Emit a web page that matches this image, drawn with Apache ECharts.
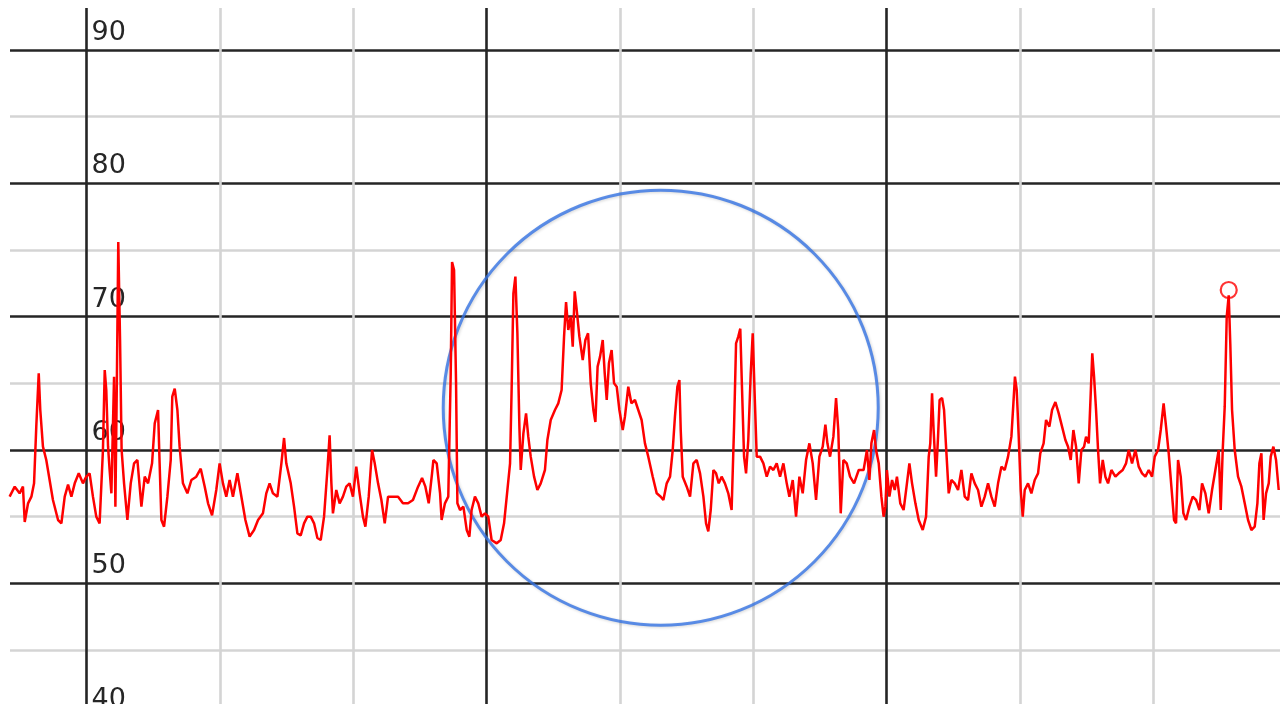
<!DOCTYPE html>
<html>
<head>
<meta charset="utf-8">
<script src="https://cdn.jsdelivr.net/npm/echarts@6.0.0/dist/echarts.min.js"></script>
<style>
  html, body { margin: 0; padding: 0; background: #ffffff; }
  #chart { width: 1280px; height: 704px; }
</style>
</head>
<body>
<div id="chart"></div>
<script>
// time (seconds into the 10-minute window) and heart-rate-like values
const seconds = [
  25.4,27.7,29.9,31.4,32.2,33.7,35.2,36.4,37.4,38.5,39.2,40.4,41.9,43.4,44.9,47.2,48.7,50.2,51.7,53.2,
  54.7,56.5,58.4,59.9,61.4,62.9,64.4,65.9,67.4,68.2,68.9,69.7,70.4,71.2,72.4,73.0,73.7,74.3,75.1,75.8,
  76.9,78.4,79.9,81.4,82.9,84.7,86.2,87.7,89.5,90.7,92.2,92.9,93.7,94.9,96.4,97.9,98.6,99.7,100.9,101.9,
  103.4,105.4,107.2,109.4,111.4,113.2,114.7,116.5,118.4,119.9,121.4,122.9,124.4,125.9,127.9,129.7,131.5,133.4,135.4,137.2,
  139.4,140.9,142.4,143.9,145.9,147.7,148.9,149.9,151.9,153.4,154.9,156.4,157.9,159.4,160.9,162.4,163.9,165.4,166.9,168.4,
  169.4,170.2,170.9,172.4,173.9,175.4,176.9,178.4,179.9,181.4,182.9,184.4,185.5,187.0,188.5,189.7,191.2,192.7,194.2,195.7,
  197.9,200.2,202.4,204.7,206.9,209.2,211.0,212.5,214.0,215.5,
  216.1,217.6,219.1,219.8,221.3,222.8,223.9,224.5,225.4,226.3,226.9,228.1,229.6,231.1,232.3,233.3,234.8,236.3,237.8,239.3,
  240.8,242.3,244.6,246.4,247.9,249.4,250.6,251.3,252.1,253.0,253.9,254.8,255.4,256.6,257.8,258.8,259.9,261.4,262.9,264.4,
  266.3,267.4,268.9,270.8,272.3,273.8,274.9,275.8,276.8,277.9,278.8,279.7,280.6,281.8,283.3,284.5,285.7,286.9,288.1,289.0,
  290.0,291.1,292.3,293.2,294.1,295.1,296.3,297.4,298.6,299.8,301.3,302.3,303.8,305.2,306.8,308.3,309.8,311.3,312.8,314.8,
  316.6,318.4,319.6,321.1,322.6,323.8,324.8,325.9,326.8,327.4,328.3,330.1,331.6,333.1,334.6,336.1,337.6,338.8,339.8,340.9,
  342.1,343.3,344.5,345.8,347.3,348.8,350.3,351.4,352.3,353.3,354.2,355.0,355.9,356.8,357.8,358.9,359.8,360.7,361.6,363.1,
  364.6,366.1,367.6,369.1,370.6,372.1,373.6,375.1,376.3,377.8,379.3,380.8,382.3,383.8,385.3,386.8,388.3,389.8,391.3,392.5,
  393.4,394.6,396.1,397.3,398.3,399.4,400.6,402.1,403.6,405.4,
  406.0,407.5,409.7,411.2,412.3,413.2,414.4,415.3,416.5,417.7,418.7,419.5,420.2,421.3,422.5,423.7,424.7,426.2,427.7,429.2,
  430.3,431.5,433.0,434.5,436.3,437.8,439.0,439.7,440.5,441.2,442.3,443.2,443.9,445.0,445.9,446.8,448.0,449.2,450.7,452.2,
  453.7,455.2,456.7,458.2,459.7,461.2,462.7,464.2,465.7,467.2,468.7,470.2,471.7,473.2,474.7,476.2,477.1,477.8,478.6,479.5,
  480.4,481.3,482.2,483.7,485.2,486.7,488.2,489.2,490.7,491.8,493.3,494.5,496.0,497.5,499.0,500.5,501.7,502.9,504.1,505.3,
  506.5,507.7,508.9,509.8,511.0,511.9,512.6,513.4,514.3,515.2,516.1,517.3,518.5,519.7,521.2,523.0,524.5,526.3,527.8,529.0,
  530.5,532.0,533.5,535.0,536.5,538.0,539.5,540.7,542.2,543.4,544.7,545.8,547.0,548.2,549.4,550.3,551.2,552.4,553.6,554.8,
  556.3,557.8,559.3,560.8,562.0,563.5,565.0,566.5,568.0,569.5,570.4,571.3,572.2,573.1,574.0,574.7,575.5,576.7,578.2,579.7,
  581.2,582.7,584.2,585.7,586.9,587.8,588.7,589.7,590.8,592.0,592.9,594.1,595.3,596.5
];
const bpm = [
  56.5,57.25,56.75,57.25,54.6,56,56.5,57.5,61.75,65.75,63,60.25,59.25,57.75,56.25,54.75,54.5,56.5,57.4,56.5,
  57.5,58.25,57.5,58,58.25,56.5,55,54.5,60,66,64.5,60.25,58.5,56.75,65.5,55.75,65.75,75.6,68.25,60,
  57.5,54.75,57.5,59,59.25,55.75,58,57.5,59,62,63,59,54.75,54.25,56.5,59.25,64,64.6,63,60.25,
  57.5,56.75,57.75,58,58.6,57.25,56,55.1,57,59,57.5,56.5,57.75,56.5,58.25,56.5,54.75,53.5,54,54.75,
  55.25,56.75,57.5,56.75,56.5,59,60.9,59,57.5,55.75,53.75,53.6,54.5,55,55,54.5,53.4,53.25,55,58.5,
  61.1,57.5,55.25,57,56,56.5,57.25,57.5,56.5,58.75,56.75,55,54.25,56.5,60,59,57.5,56.25,54.5,56.5,
  56.5,56.5,56,56,56.25,57.25,57.9,57.25,56,58.25,
  59.25,59,56.75,54.75,56,56.5,65.75,74.1,73.5,65,56,55.5,55.75,54,53.5,55.5,56.5,56,55,55.25,
  55,53.25,53,53.25,54.5,57,59,64.5,71.75,73,68.75,61.75,58.5,61.25,62.75,61,59.5,58,57,57.5,
  58.5,60.75,62.25,63,63.5,64.5,68.5,71.1,69,70,67.75,71.9,70.5,68.5,66.75,68.25,68.75,65,63,62.1,
  66.25,67,68.25,65.75,63.75,66.5,67.5,65,64.75,63,61.5,62.5,64.75,63.5,63.75,63,62.25,60.5,59.5,58,
  56.75,56.5,56.25,57.5,58,60,62.5,64.75,65.25,61.5,58,57.25,56.5,59,59.25,58.25,56.5,54.5,53.9,55.5,
  58.5,58.25,57.5,58,57.5,56.75,55.5,61.75,68,68.5,69.1,64.5,59.5,58.25,60.75,65.75,68.75,64,59.5,59.5,
  59,58,58.75,58.5,59,58,59,57.5,56.5,57.75,55,58,56.75,59.25,60.5,59,56.25,59.5,60.25,61.9,
  60.5,59.5,61,63.9,61.5,55.25,59.25,59,58,57.5,
  57.5,58.5,58.5,60,57.75,60.5,61.5,60,59,56.5,55,55.75,58.5,56.5,57.75,57,58,56,55.5,57.5,
  59,57.5,56,54.75,54,55,59.5,60.5,64.25,61.5,58,61,63.75,63.9,63,60.25,56.75,57.75,57.5,57,
  58.5,56.5,56.25,58.25,57.5,57,55.75,56.5,57.5,56.5,55.75,57.5,58.75,58.5,59.5,61,63.5,65.5,64.5,61,
  57,55,57,57.5,56.75,57.75,58.25,59.75,60.5,62.25,61.75,63,63.6,62.75,61.75,60.75,60.25,59.25,61.5,60.25,
  57.5,60,60.25,61,60.5,64.25,67.25,65.5,63,60,57.5,59.25,58,57.5,58.5,58,58.25,58.5,59,60,
  59,60,58.75,58.25,58,58.5,58,59.5,60,61.5,63.5,61.75,59.75,57.25,54.75,54.5,59.25,58,55.25,54.75,
  55.75,56.5,56.25,55.5,57.5,56.75,55.25,57,58.5,60,55.5,60,63.25,70,71.6,68,63,60,58,57.25,
  56,54.75,54,54.25,56,59,59.75,54.75,56.75,57.5,59.5,60.25,59.25,57
];
// annotations
const markedPeak = [574.0, 72.0];          // small red ring over the last big spike
const circledRegion = [318.4, 63.17];      // centre of the blue highlight circle
const yTickLabels = [40, 50, 60, 70, 80, 90];

const trace = seconds.map((t, i) => [t, bpm[i]]);

const DARK = '#252525';
const LIGHT = '#d4d4d4';

const chart = echarts.init(document.getElementById('chart'), null, { renderer: 'canvas' });
chart.setOption({
  animation: false,
  backgroundColor: '#ffffff',
  grid: {
    left: -46.83, right: -6.5, top: -16.67, bottom: -12.67,
    containLabel: false, outerBoundsMode: 'none'
  },
  xAxis: {
    type: 'value',
    min: 0, max: 600, interval: 60,
    axisLine: { show: false },
    axisTick: { show: false },
    axisLabel: { show: false },
    splitLine: {
      show: true,
      lineStyle: { color: [LIGHT, DARK, LIGHT], width: 2.6 }
    }
  },
  yAxis: {
    type: 'value',
    min: 40, max: 95, interval: 5,
    offset: -133.33,
    axisLine: { show: false },
    axisTick: { show: false },
    axisLabel: {
      show: true,
      inside: true,
      margin: 5,
      verticalAlign: 'bottom',
      color: '#262626',
      fontFamily: 'DejaVu Sans',
      fontSize: 27,
      lineHeight: 30,
      padding: [0, 0, 2, 0],
      showMaxLabel: false,
      formatter: v => (yTickLabels.indexOf(v) >= 0 ? String(v) : '')
    },
    splitLine: {
      show: true,
      lineStyle: { color: [DARK, LIGHT], width: 2.6 }
    }
  },
  graphic: [
    { type: 'rect', z: 1, shape: { x: 0, y: 0, width: 10, height: 704 }, style: { fill: '#ffffff' } },
    { type: 'rect', z: 1, shape: { x: 0, y: 0, width: 1280, height: 8 }, style: { fill: '#ffffff' } }
  ],
  series: [
    {
      type: 'scatter',
      data: [circledRegion],
      symbol: 'circle',
      symbolSize: 435,
      silent: true,
      itemStyle: {
        color: 'rgba(0,0,0,0)',
        borderColor: '#3573e3',
        borderWidth: 3,
        shadowBlur: 3,
        shadowColor: 'rgba(0,0,0,0.2)',
        shadowOffsetX: 1,
        shadowOffsetY: 1
      },
      z: 2
    },
    {
      type: 'line',
      data: trace,
      showSymbol: false,
      symbol: 'none',
      lineStyle: { color: '#ff0000', width: 2.5 },
      z: 3
    },
    {
      type: 'scatter',
      data: [markedPeak],
      symbol: 'circle',
      symbolSize: 16,
      itemStyle: { color: 'rgba(0,0,0,0)', borderColor: '#ff0000', borderWidth: 2.2 },
      z: 4
    }
  ]
});
</script>
</body>
</html>
